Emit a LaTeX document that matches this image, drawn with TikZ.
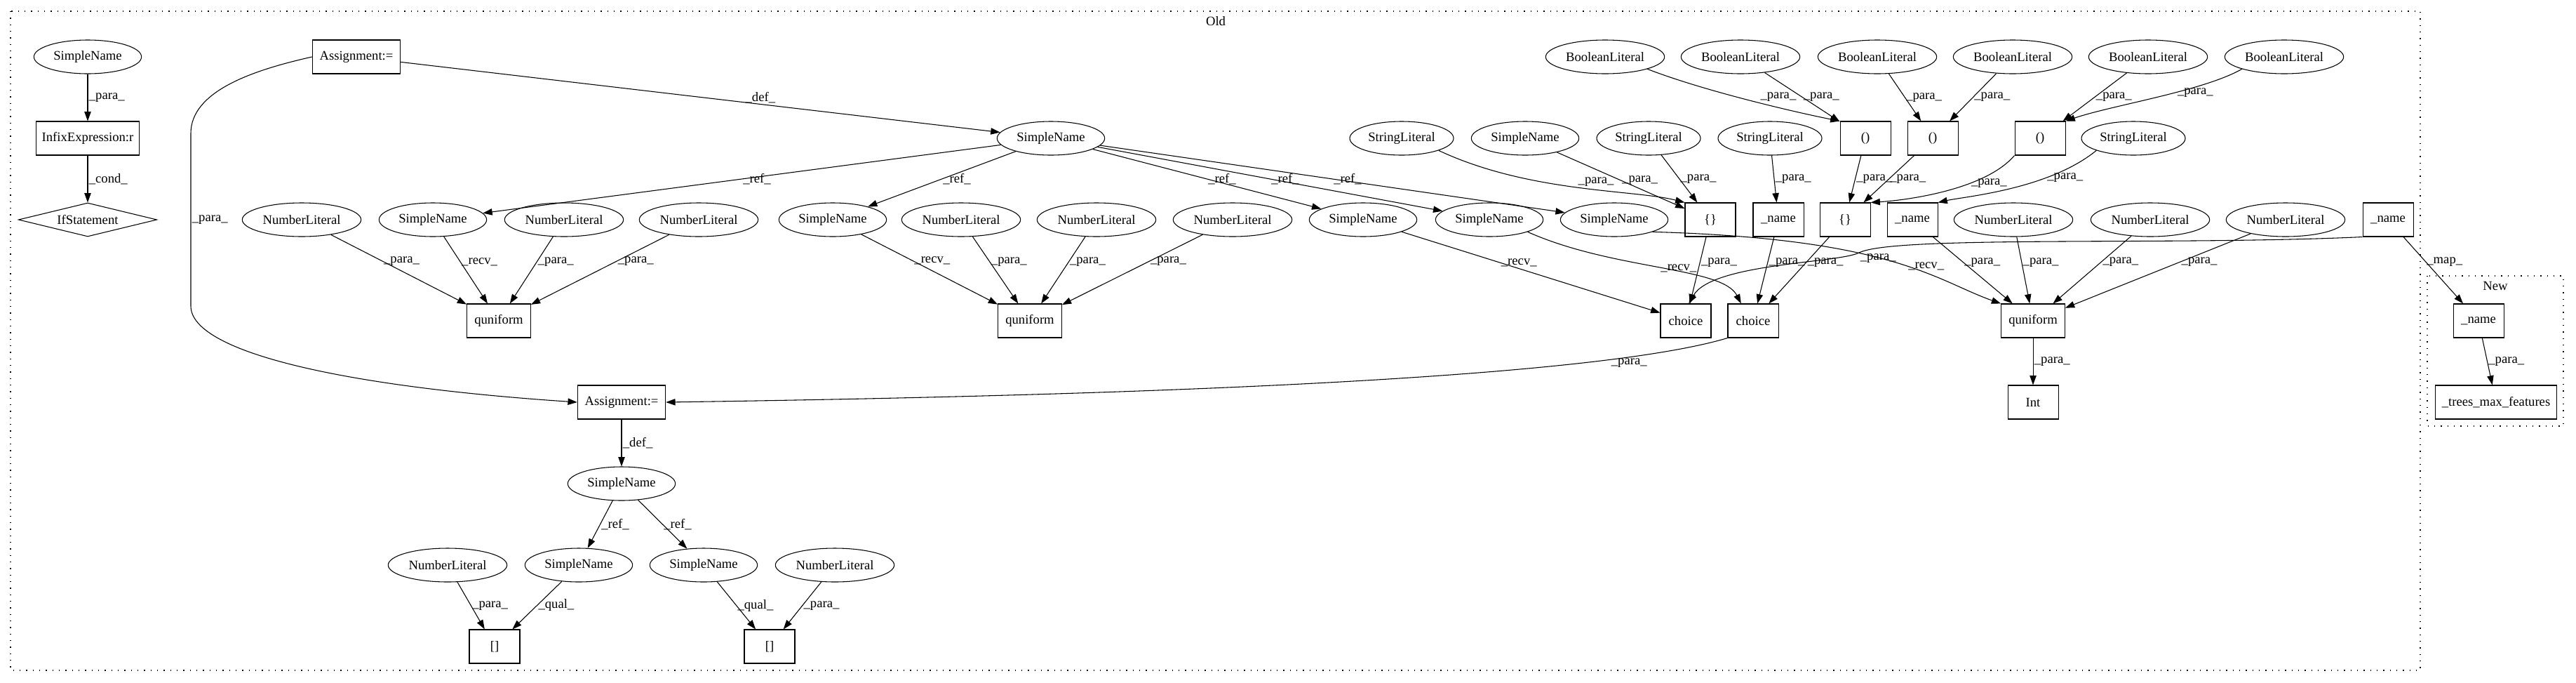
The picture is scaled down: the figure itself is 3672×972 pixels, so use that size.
\documentclass[tikz,border=0pt]{standalone}
\usepackage{fontspec}
\setmainfont{Liberation Serif}
\usetikzlibrary{arrows.meta, shapes.geometric}

\begin{document}
\begin{tikzpicture}[
  x=0.75pt, y=-0.75pt,
  every node/.style={font=\fontsize{14pt}{16pt}\selectfont},
  ell/.style={ellipse, draw, line width=0.8pt, inner sep=0pt, minimum height=36pt},
  simplename/.style={ell, minimum width=115pt},
  numlit/.style={ell, minimum width=127pt},
  boollit/.style={ell, minimum width=127pt},
  strlit/.style={ell, minimum width=111pt},
  box/.style={rectangle, draw, line width=0.8pt, inner sep=0pt, minimum width=54pt, minimum height=36pt},
  arr/.style={-{Triangle[length=10pt, width=7pt]}, line width=0.8pt},
  lbl/.style={anchor=west, inner sep=1pt, pos=0.5},
  lbllow/.style={lbl, pos=0.38},
  cluster/.style={draw, line width=1pt, dash pattern=on 1pt off 6pt},
]
  \useasboundingbox (0,0) rectangle (3672,972);

  % clusters
  \draw[cluster] (15,16) rectangle (3450,955);
  \node (old) at (1733,30) {Old};
  \draw[cluster] (3460,393) rectangle (3654,607);
  \node (new) at (3557,407) {New};

  % row 81
  \node[simplename] (snL) at (125,81) {SimpleName};
  \node[box, minimum width=94pt] (asgA) at (508,81) {Assignment:=};
  \node[boollit] (bl1) at (2288,81) {BooleanLiteral};
  \node[boollit] (bl2) at (2481,81) {BooleanLiteral};
  \node[boollit] (bl3) at (2676,81) {BooleanLiteral};
  \node[boollit] (bl4) at (2869,81) {BooleanLiteral};
  \node[boollit] (bl5) at (3062,81) {BooleanLiteral};
  \node[boollit] (bl6) at (3256,81) {BooleanLiteral};

  % row 197
  \node[box, minimum width=110pt] (infix) at (125,197) {InfixExpression:r};
  \node[simplename] (sn0) at (1498,197) {SimpleName};
  \node[strlit] (sl1) at (1998,197) {StringLiteral};
  \node[simplename] (snP) at (2174,197) {SimpleName};
  \node[strlit] (sl2) at (2350,197) {StringLiteral};
  \node[strlit] (sl3) at (2523,197) {StringLiteral};
  \node[box] (par1) at (2659,197) {()};
  \node[box] (par2) at (2755,197) {()};
  \node[box] (par3) at (2908,197) {()};
  \node[strlit] (sl4) at (3041,197) {StringLiteral};

  % row 313
  \node[diamond, draw, line width=0.8pt, inner sep=0pt, shape aspect=4,
    minimum width=148pt, minimum height=36pt] (ifst) at (125,313) {IfStatement};
  \node[numlit] (nl1) at (430,313) {NumberLiteral};
  \node[simplename] (sn1) at (617,313) {SimpleName};
  \node[numlit] (nl2) at (804,313) {NumberLiteral};
  \node[numlit] (nl3) at (996,313) {NumberLiteral};
  \node[simplename] (sn2) at (1187,313) {SimpleName};
  \node[numlit] (nl4) at (1370,313) {NumberLiteral};
  \node[numlit] (nl5) at (1563,313) {NumberLiteral};
  \node[numlit] (nl6) at (1757,313) {NumberLiteral};
  \node[simplename] (sn3) at (1943,313) {SimpleName};
  \node[simplename] (sn4) at (2123,313) {SimpleName};
  \node[simplename] (sn5) at (2301,313) {SimpleName};
  \node[box] (brc1) at (2438,313) {\{\}};
  \node[box] (nmA) at (2535,313) {\_name};
  \node[box] (brc2) at (2630,313) {\{\}};
  \node[box] (nmB) at (2726,313) {\_name};
  \node[numlit] (nl7) at (2870,313) {NumberLiteral};
  \node[numlit] (nl8) at (3065,313) {NumberLiteral};
  \node[numlit] (nl9) at (3258,313) {NumberLiteral};
  \node[box] (nmC) at (3404,313) {\_name};

  % row 457
  \node[box, minimum width=68pt] (qu1) at (711,457) {quniform};
  \node[box, minimum width=68pt] (qu2) at (1468,457) {quniform};
  \node[box] (ch1) at (2403,457) {choice};
  \node[box] (ch2) at (2499,457) {choice};
  \node[box, minimum width=68pt] (qu3) at (2898,457) {quniform};
  \node[box] (nmN) at (3533,457) {\_name};

  % lower part
  \node[box, minimum width=94pt] (asgB) at (886,573) {Assignment:=};
  \node[box] (intN) at (2898,573) {Int};
  \node[box, minimum width=130pt] (trees) at (3558,573) {\_trees\_max\_features};
  \node[simplename] (snD) at (886,689) {SimpleName};
  \node[numlit] (nl10) at (638,805) {NumberLiteral};
  \node[simplename] (sn6) at (825,805) {SimpleName};
  \node[simplename] (sn7) at (1003,805) {SimpleName};
  \node[numlit] (nl11) at (1190,805) {NumberLiteral};
  \node[box] (sq1) at (705,921) {[]};
  \node[box] (sq2) at (1097,921) {[]};

  % edges
  \draw[arr] (snL) -- node[lbl] {\_para\_} (infix);
  \draw[arr] (infix) -- node[lbl] {\_cond\_} (ifst);
  \draw[arr] (asgA) -- node[lbl, pos=.6, anchor=south] {\_def\_} (sn0);
  \draw[arr] (asgA.west) .. controls (360,100) and (272,130) .. (272,190)
    -- node[lbl] {\_para\_} (272,436) .. controls (272,500) and (480,550) .. (asgB.west);

  \draw[arr] (sn0) -- node[lbl] {\_ref\_} (sn1);
  \draw[arr] (sn0) -- node[lbl] {\_ref\_} (sn2);
  \draw[arr] (sn0) -- node[lbl] {\_ref\_} (sn3);
  \draw[arr] (sn0) -- node[lbl] {\_ref\_} (sn4);
  \draw[arr] (sn0) -- node[lbl] {\_ref\_} (sn5);

  \draw[arr] (nl1) -- node[lbllow] {\_para\_} (qu1);
  \draw[arr] (sn1) -- node[lbllow] {\_recv\_} (qu1);
  \draw[arr] (nl2) -- node[lbllow] {\_para\_} (qu1);
  \draw[arr] (nl3) -- node[lbllow] {\_para\_} (qu1);
  \draw[arr] (sn2) -- node[lbllow] {\_recv\_} (qu2);
  \draw[arr] (nl4) -- node[lbllow] {\_para\_} (qu2);
  \draw[arr] (nl5) -- node[lbllow] {\_para\_} (qu2);
  \draw[arr] (nl6) -- node[lbllow] {\_para\_} (qu2);

  \draw[arr] (sn3) -- node[lbllow] {\_recv\_} (ch1);
  \draw[arr] (sn4.south east) .. controls (2300,385) and (2455,380) .. (ch2.125)
    node[lbl, pos=.5] {\_recv\_};
  \draw[arr] (sn5.south east) .. controls (2700,340) and (2760,400) .. (qu3.north west)
    node[lbl, pos=.55] {\_recv\_};

  \draw[arr] (sl1.south east) .. controls (2180,275) and (2330,270) .. (brc1.north west)
    node[lbl, pos=.5, anchor=south west] {\_para\_};
  \draw[arr] (snP) -- node[lbl] {\_para\_} (brc1);
  \draw[arr] (sl2) -- node[lbl] {\_para\_} (brc1);
  \draw[arr] (sl3) -- node[lbl] {\_para\_} (nmA);

  \draw[arr] (bl1.south east) .. controls (2430,130) and (2560,160) .. (par1.north west)
    node[lbl, pos=.55, anchor=south west] {\_para\_};
  \draw[arr] (bl2) -- node[lbl] {\_para\_} (par1);
  \draw[arr] (bl3) -- node[lbl] {\_para\_} (par2);
  \draw[arr] (bl4) -- node[lbl] {\_para\_} (par2);
  \draw[arr] (bl5) -- node[lbl] {\_para\_} (par3);
  \draw[arr] (bl6.south west) .. controls (3140,130) and (3010,150) .. (par3.north east)
    node[lbl, pos=.4] {\_para\_};

  \draw[arr] (par1) -- node[lbl] {\_para\_} (brc2);
  \draw[arr] (par2) -- node[lbl] {\_para\_} (brc2);
  \draw[arr] (par3.south west) .. controls (2830,270) and (2720,285) .. (brc2.north east)
    node[lbl, pos=.35] {\_para\_};
  \draw[arr] (sl4.south west) .. controls (2920,270) and (2800,280) .. (nmB.north east)
    node[lbl, pos=.3] {\_para\_};

  \draw[arr] (brc1) -- node[lbllow] {\_para\_} (ch1);
  \draw[arr] (nmA) -- node[lbllow] {\_para\_} (ch2);
  \draw[arr] (brc2) -- node[lbllow] {\_para\_} (ch2);
  \draw[arr] (nmC.south west) .. controls (3100,350) and (2700,335) .. (2650,360)
    node[anchor=north west, inner sep=1pt] {\_para\_}
    .. controls (2620,375) and (2440,375) .. (ch1.80);
  \draw[arr] (nmB) -- node[lbllow] {\_para\_} (qu3);
  \draw[arr] (nl7) -- node[lbllow] {\_para\_} (qu3);
  \draw[arr] (nl8) -- node[lbllow] {\_para\_} (qu3);
  \draw[arr] (nl9) -- node[lbllow] {\_para\_} (qu3);

  \draw[arr] (ch2.south west) .. controls (2250,545) and (1500,565) .. (asgB.east)
    node[lbl, pos=.16, anchor=north] {\_para\_};
  \draw[arr] (qu3) -- node[lbl] {\_para\_} (intN);
  \draw[arr] (nmC) -- node[lbl, pos=.37] {\_map\_} (nmN);
  \draw[arr] (nmN) -- node[lbl] {\_para\_} (trees);

  \draw[arr] (asgB) -- node[lbl] {\_def\_} (snD);
  \draw[arr] (snD) -- node[lbl] {\_ref\_} (sn6);
  \draw[arr] (snD) -- node[lbl] {\_ref\_} (sn7);
  \draw[arr] (nl10) -- node[lbl] {\_para\_} (sq1);
  \draw[arr] (sn6) -- node[lbl] {\_qual\_} (sq1);
  \draw[arr] (sn7) -- node[lbl] {\_qual\_} (sq2);
  \draw[arr] (nl11) -- node[lbl] {\_para\_} (sq2);
\end{tikzpicture}
\end{document}
